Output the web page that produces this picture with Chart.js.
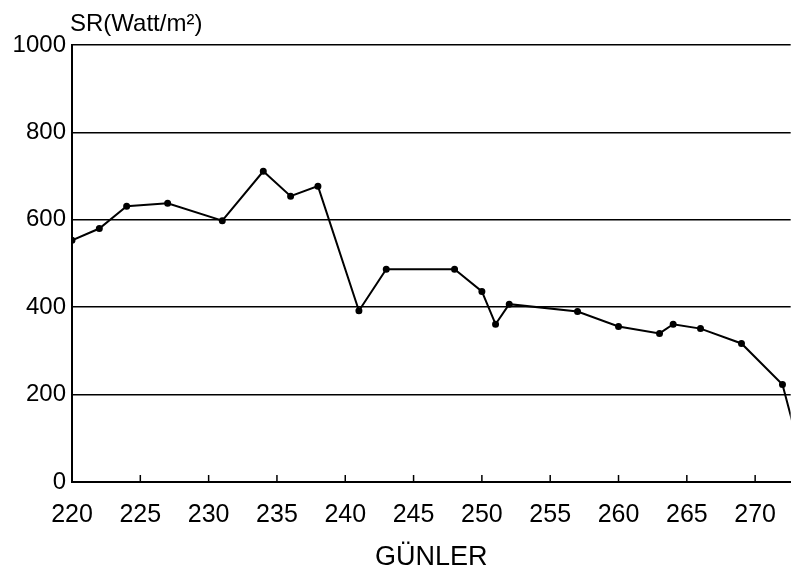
<!DOCTYPE html>
<html>
<head>
<meta charset="utf-8">
<script src="https://cdn.jsdelivr.net/npm/chart.js@4"></script>
<style>
    html, body { margin: 0; padding: 0; background: #fff; }
    #wrap { width: 794px; height: 578px; }
</style>
</head>
<body>
<div id="wrap"><canvas id="srChart" width="794" height="578"></canvas></div>
<script>
const days = [220, 222, 224, 227, 231, 234, 236, 238, 241, 243, 248, 250, 251, 252, 257, 260, 263, 264, 266, 269, 272, 273];
const srValues = [553, 580, 631, 638, 598, 711, 654, 677, 392, 487, 487, 436, 361, 407, 390, 356, 340, 361, 351, 317, 223, 105];
const xTicks = [220, 225, 230, 235, 240, 245, 250, 255, 260, 265, 270];
const yTicks = [0, 200, 400, 600, 800, 1000];

const FONT = "'Liberation Sans', Arial, sans-serif";

// small tick marks pointing up into the plot, and the unit label on top
const extras = {
    id: "extras",
    afterDraw(chart) {
        const ctx = chart.ctx;
        const x = chart.scales.x;
        const area = chart.chartArea;
        ctx.save();
        ctx.strokeStyle = "#000";
        ctx.lineWidth = 1.5;
        xTicks.slice(1).forEach(v => {
            const px = x.getPixelForValue(v);
            ctx.beginPath();
            ctx.moveTo(px, area.bottom);
            ctx.lineTo(px, area.bottom - 7);
            ctx.stroke();
        });
        ctx.fillStyle = "#000";
        ctx.font = "24px " + FONT;
        ctx.textBaseline = "alphabetic";
        ctx.fillText("SR(Watt/m²)", area.left - 2, area.top - 14);
        ctx.restore();
    }
};

new Chart(document.getElementById("srChart"), {
    type: "line",
    data: {
        datasets: [{
            data: days.map((d, i) => ({ x: d, y: srValues[i] })),
            borderColor: "#000",
            backgroundColor: "#000",
            borderWidth: 2,
            pointRadius: 2.5,
            pointHoverRadius: 2.5,
            tension: 0
        }]
    },
    options: {
        responsive: false,
        animation: false,
        layout: { autoPadding: false, padding: { top: 45, left: 0, right: 0, bottom: 0 } },
        plugins: { legend: { display: false }, tooltip: { enabled: false } },
        scales: {
            x: {
                type: "linear",
                min: 220,
                max: 272.6,
                afterFit: s => { s.height = 96; },
                afterBuildTicks: s => { s.ticks = xTicks.map(v => ({ value: v })); },
                grid: { drawOnChartArea: false, drawTicks: false },
                border: { color: "#000", width: 2 },
                ticks: {
                    color: "#000",
                    padding: 18,
                    maxRotation: 0,
                    autoSkip: false,
                    callback: v => String(v),
                    font: { family: FONT, size: 25 }
                },
                title: {
                    display: true,
                    text: "GÜNLER",
                    color: "#000",
                    padding: { top: 6, bottom: 4 },
                    font: { family: FONT, size: 27 }
                }
            },
            y: {
                min: 0,
                max: 1000,
                afterFit: s => { s.width = 72; },
                afterBuildTicks: s => { s.ticks = yTicks.map(v => ({ value: v })); },
                grid: { color: "#000", lineWidth: 1.5, drawTicks: false },
                border: { color: "#000", width: 2 },
                ticks: {
                    color: "#000",
                    padding: 6,
                    callback: v => String(v),
                    font: { family: FONT, size: 24 }
                }
            }
        }
    },
    plugins: [extras]
});
</script>
</body>
</html>
